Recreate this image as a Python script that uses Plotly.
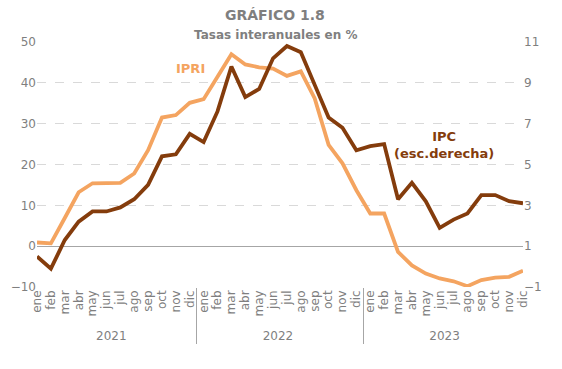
import plotly.graph_objects as go

years = ["2021"] * 12 + ["2022"] * 12 + ["2023"] * 12
months = ["ene", "feb", "mar", "abr", "may", "jun", "jul", "ago", "sep", "oct", "nov", "dic"] * 3

ipri = [0.9, 0.7, 6.9, 13.2, 15.4, 15.5, 15.5, 17.8, 23.5, 31.5, 32.1, 35.1,
        36.0, 41.5, 47.0, 44.5, 43.8, 43.5, 41.7, 42.8, 36.2, 24.8, 20.3, 13.7,
        8.0, 8.0, -1.4, -4.7, -6.7, -7.9, -8.6, -9.8, -8.3, -7.7, -7.5, -6.0]
ipc = [0.5, -0.1, 1.3, 2.2, 2.7, 2.7, 2.9, 3.3, 4.0, 5.4, 5.5, 6.5,
       6.1, 7.6, 9.8, 8.3, 8.7, 10.2, 10.8, 10.5, 8.9, 7.3, 6.8, 5.7,
       5.9, 6.0, 3.3, 4.1, 3.2, 1.9, 2.3, 2.6, 3.5, 3.5, 3.2, 3.1]

left_ticks = [-10, 0, 10, 20, 30, 40, 50]
right_ticks = [-1, 1, 3, 5, 7, 9, 11]

C_IPRI = "#F4A460"
C_IPC = "#843C0C"
GRAY = "#7F7F7F"
FONT = "DejaVu Sans"

fig = go.Figure()
fig.add_trace(go.Scatter(x=[years, months], y=ipri, mode="lines",
                         line=dict(color=C_IPRI, width=3.8), name="IPRI"))
fig.add_trace(go.Scatter(x=[years, months], y=ipc, mode="lines", yaxis="y2",
                         line=dict(color=C_IPC, width=3.8), name="IPC"))

fig.update_layout(
    width=562, height=369,
    margin=dict(l=37, r=39, t=42, b=82, autoexpand=False),
    paper_bgcolor="white", plot_bgcolor="white",
    showlegend=False,
    font=dict(family=FONT, color=GRAY, size=12),
    xaxis=dict(type="multicategory", tickangle=-90, showgrid=False,
               tickmode="linear", dtick=1, automargin=False,
               ticks="outside", ticklen=7, tickcolor="rgba(0,0,0,0)",
               showdividers=True, dividercolor="#A6A6A6", dividerwidth=1,
               tickfont=dict(size=12, color=GRAY), showline=False),
    yaxis=dict(range=[-10, 50], tickvals=left_ticks, showgrid=True, automargin=False,
               gridcolor="#D9D9D9", griddash="dash", gridwidth=1,
               zeroline=True, zerolinecolor="#A6A6A6", zerolinewidth=1,
               tickfont=dict(size=12, color=GRAY), ticks="", showline=False),
    yaxis2=dict(range=[-1, 11], tickvals=right_ticks, overlaying="y", side="right",
                showgrid=False, zeroline=False, automargin=False,
                tickfont=dict(size=12, color=GRAY), ticks="", showline=False),
)

fig.add_annotation(x=0.49, y=1.0, xref="paper", yref="paper", yshift=37,
                   text="<b>GRÁFICO 1.8</b>", showarrow=False,
                   font=dict(size=14, color=GRAY, family=FONT))
fig.add_annotation(x=0.49, y=1.0, xref="paper", yref="paper", yshift=16,
                   text="<b>Tasas interanuales en %</b>", showarrow=False,
                   font=dict(size=12, color=GRAY, family=FONT))
fig.add_annotation(x=(190 - 37) / 486, y=(246 - 68) / 4.08, xref="paper", yref="y",
                   xanchor="center", yanchor="middle",
                   text="<b>IPRI</b>", showarrow=False,
                   font=dict(size=13, color=C_IPRI, family=FONT))
fig.add_annotation(x=(444 - 37) / 486, y=(246 - 145) / 4.08, xref="paper", yref="y",
                   xanchor="center", yanchor="middle",
                   text="<b>IPC<br>(esc.derecha)</b>", showarrow=False,
                   font=dict(size=13, color=C_IPC, family=FONT))

fig.write_html("out.html", config={"displayModeBar": False},
               post_script="document.body.style.margin='0';document.body.style.overflow='hidden';")
